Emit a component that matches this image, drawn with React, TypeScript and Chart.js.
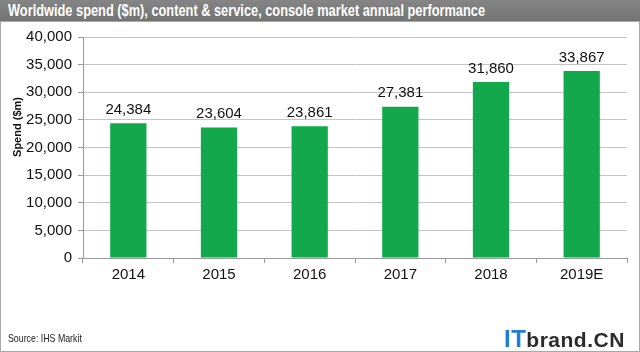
import React, { useEffect, useRef } from "react";
import { Chart, registerables } from "chart.js";

Chart.register(...registerables);

const TITLE = "Worldwide spend ($m), content & service, console market annual performance";
const categories = ["2014", "2015", "2016", "2017", "2018", "2019E"];
const spend = [24384, 23604, 23861, 27381, 31860, 33867];
const yTicks = [0, 5000, 10000, 15000, 20000, 25000, 30000, 35000, 40000];
const yTitle = "Spend ($m)";
const source = "Source: IHS Markit";

const fmt = (v: number) => v.toLocaleString("en-US");

export default function App() {
  const ref = useRef<HTMLCanvasElement | null>(null);
  useEffect(() => {
    document.body.style.margin = "0";
    const ctx = ref.current!;
    const labelPlugin = {
      id: "labels",
      afterDatasetsDraw(chart: any) {
        const c = chart.ctx;
        const meta = chart.getDatasetMeta(0);
        c.save();
        c.font = "15px 'Liberation Sans', Arial, sans-serif";
        c.fillStyle = "#111";
        c.textAlign = "center";
        c.textBaseline = "bottom";
        meta.data.forEach((el: any, i: number) => {
          c.fillText(fmt(spend[i]), el.x, el.y - 6);
        });
        c.restore();
      },
      afterDraw(chart: any) {
        const c = chart.ctx;
        c.save();
        c.font = "bold 11px 'Liberation Sans', Arial, sans-serif";
        c.fillStyle = "#111";
        c.textAlign = "center";
        c.textBaseline = "middle";
        c.translate(18, 105);
        c.rotate(-Math.PI / 2);
        c.fillText(yTitle, 0, 0);
        c.restore();
      },
    };
    const chart = new Chart(ctx, {
      type: "bar",
      data: {
        labels: categories,
        datasets: [
          {
            data: spend,
            backgroundColor: "#12a84b",
            borderWidth: 0,
            categoryPercentage: 1,
            barPercentage: 0.4,
          },
        ],
      },
      options: {
        animation: false,
        responsive: false,
        maintainAspectRatio: false,
        layout: { padding: { left: 0, right: 13, top: 12, bottom: 64 } },
        plugins: { legend: { display: false }, tooltip: { enabled: false } },
        scales: {
          x: {
            grid: { display: true, drawOnChartArea: false, offset: true, tickLength: 5, color: "#999" },
            border: { color: "#999" },
            ticks: { color: "#111", font: { size: 15, family: "'Liberation Sans', Arial, sans-serif" }, padding: 3 },
            afterFit: (s: any) => { s.height = 30; },
          },
          y: {
            min: 0,
            max: 40000,
            afterBuildTicks: (s: any) => { s.ticks = yTicks.map((v) => ({ value: v })); },
            grid: { color: "#c4c4c4", tickLength: 5, tickColor: "#999" },
            border: { color: "#999" },
            ticks: {
              color: "#111",
              font: { size: 15, family: "'Liberation Sans', Arial, sans-serif" },
              padding: 6,
              callback: (v: any) => fmt(Number(v)),
            },
            afterFit: (s: any) => { s.width = 83; },
          },
        },
      },
      plugins: [labelPlugin],
    });
    return () => chart.destroy();
  }, []);

  return (
    <div style={{ position: "absolute", left: 0, top: 0, width: 640, height: 352, background: "#fff", overflow: "hidden" }}>
      <div style={{ position: "absolute", left: 0, top: 0, width: 640, height: 21, background: "linear-gradient(#858585, #737373)" }} />
      <div
        style={{
          position: "absolute", left: 8, top: 0, height: 21, color: "#fff",
          font: "bold 16px 'Liberation Sans', Arial, sans-serif",
          lineHeight: "21px", whiteSpace: "nowrap", transform: "scaleX(0.8)", transformOrigin: "0 0",
        }}
      >
        {TITLE}
      </div>
      <div style={{ position: "absolute", left: 0, top: 21, width: 640, height: 331, border: "1px solid #a8a8a8", boxSizing: "border-box" }} />
      <canvas ref={ref} width={640} height={330} style={{ position: "absolute", left: 0, top: 22, width: 640, height: 330 }} />
      <div style={{ position: "absolute", left: 8, top: 332, font: "11px 'Liberation Sans', Arial, sans-serif", color: "#222", whiteSpace: "nowrap", transform: "scaleX(0.8)", transformOrigin: "0 0" }}>
        {source}
      </div>
      <div style={{ position: "absolute", left: 504, top: 325, font: "bold 21px 'Liberation Sans', Arial, sans-serif", color: "#2b2b2b", whiteSpace: "nowrap", letterSpacing: 0.5 }}>
        <span style={{ color: "#1f7fd6", fontSize: 24 }}>IT</span>brand.CN
      </div>
    </div>
  );
}
